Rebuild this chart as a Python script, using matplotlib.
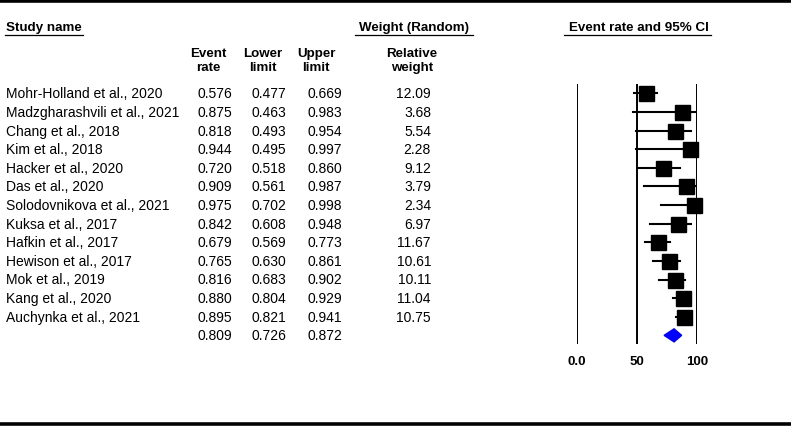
import matplotlib
matplotlib.use("Agg")
import matplotlib.pyplot as plt

plt.rcParams['font.family'] = ['Liberation Sans', 'DejaVu Sans']

studies = ["Mohr-Holland et al., 2020", "Madzgharashvili et al., 2021", "Chang et al., 2018",
           "Kim et al., 2018", "Hacker et al., 2020", "Das et al., 2020",
           "Solodovnikova et al., 2021", "Kuksa et al., 2017", "Hafkin et al., 2017",
           "Hewison et al., 2017", "Mok et al., 2019", "Kang et al., 2020",
           "Auchynka et al., 2021"]
event_rate = [0.576, 0.875, 0.818, 0.944, 0.720, 0.909, 0.975, 0.842, 0.679, 0.765, 0.816, 0.880, 0.895]
lower = [0.477, 0.463, 0.493, 0.495, 0.518, 0.561, 0.702, 0.608, 0.569, 0.630, 0.683, 0.804, 0.821]
upper = [0.669, 0.983, 0.954, 0.997, 0.860, 0.987, 0.998, 0.948, 0.773, 0.861, 0.902, 0.929, 0.941]
weight = [12.09, 3.68, 5.54, 2.28, 9.12, 3.79, 2.34, 6.97, 11.67, 10.61, 10.11, 11.04, 10.75]
summary_rate, summary_lower, summary_upper = 0.809, 0.726, 0.872
tick_vals = [0, 50, 100]
tick_labels = ["0.0", "50", "100"]

W, H = 791, 427
fig = plt.figure(figsize=(W / 100, H / 100), dpi=100)

# background axes in pixel coordinates for the table part
bg = fig.add_axes([0, 0, 1, 1])
bg.set_xlim(0, W)
bg.set_ylim(H, 0)
bg.axis('off')

row0, step = 94.3, 18.62
fs, fsb = 10, 9.6

bg.axhline(1.5, color='black', lw=2.6)
bg.axhline(425, color='black', lw=2.6)

# section headers
bg.text(6, 28, "Study name", fontsize=fsb, fontweight='bold', va='center', ha='left')
bg.text(414, 28, "Weight (Random)", fontsize=fsb, fontweight='bold', va='center', ha='center')
bg.text(639, 28, "Event rate and 95% CI", fontsize=fsb, fontweight='bold', va='center', ha='center')
for x0, x1 in [(5, 83), (355, 473), (564, 711)]:
    bg.plot([x0, x1], [36, 36], color='black', lw=0.9)

# column headers
for xc, top, bot in [(208, "Event", "rate"), (263, "Lower", "limit"),
                     (316, "Upper", "limit"), (412, "Relative", "weight")]:
    bg.text(xc, 54, top, fontsize=fsb, fontweight='bold', ha='center', va='center')
    bg.text(xc, 68, bot, fontsize=fsb, fontweight='bold', ha='center', va='center')

# table rows
for i, name in enumerate(studies):
    y = row0 + i * step
    bg.text(6, y, name, fontsize=fs, va='center', ha='left')
    bg.text(232, y, f"{event_rate[i]:.3f}", fontsize=fs, va='center', ha='right')
    bg.text(286, y, f"{lower[i]:.3f}", fontsize=fs, va='center', ha='right')
    bg.text(342, y, f"{upper[i]:.3f}", fontsize=fs, va='center', ha='right')
    bg.text(431, y, f"{weight[i]:.2f}", fontsize=fs, va='center', ha='right')
ys = row0 + len(studies) * step
bg.text(232, ys, f"{summary_rate:.3f}", fontsize=fs, va='center', ha='right')
bg.text(286, ys, f"{summary_lower:.3f}", fontsize=fs, va='center', ha='right')
bg.text(342, ys, f"{summary_upper:.3f}", fontsize=fs, va='center', ha='right')

# forest plot axes
left_px, right_px, top_px, bot_px = 577, 697, 85, 345
ax = fig.add_axes([left_px / W, (H - bot_px) / H, (right_px - left_px) / W, (bot_px - top_px) / H])
ax.set_xlim(0, 100)
ax.set_ylim((bot_px - row0) / step, (top_px - row0) / step)
for s in ax.spines.values():
    s.set_visible(False)
ax.set_yticks([])
ax.set_xticks(tick_vals, tick_labels)
ax.tick_params(axis='x', length=0, pad=8)
for lab in ax.get_xticklabels():
    lab.set_fontweight('bold')
    lab.set_fontsize(9.5)
for v in tick_vals:
    ax.axvline(v, color='black', lw=1.4)

for i in range(len(studies)):
    ax.plot([lower[i] * 100, upper[i] * 100], [i, i], color='black', lw=1.5, clip_on=False)
    ax.plot(event_rate[i] * 100, i, marker='s', markersize=10.8, color='black', clip_on=False)

n = len(studies)
h = 0.35
ax.fill([summary_lower * 100, summary_rate * 100, summary_upper * 100, summary_rate * 100],
        [n, n - h, n, n + h], color='#0000ff', clip_on=False)

fig.savefig("out.png", dpi=100)
